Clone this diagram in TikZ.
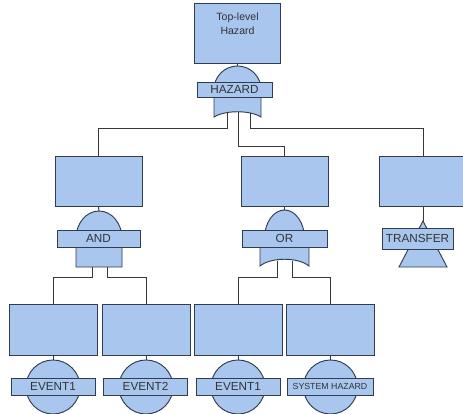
\documentclass[tikz,border=0pt]{standalone}
\usepackage{fontspec}
\setmainfont{Liberation Sans}
\definecolor{boxfill}{RGB}{168,198,238}
\definecolor{boxline}{RGB}{50,60,80}
\definecolor{wirecol}{RGB}{55,55,55}
\tikzset{
    hazbox/.style={rectangle, draw=boxline, fill=boxfill, line width=0.8pt, minimum width=2.61cm, minimum height=1.5cm, inner sep=1pt},
    gatelabel/.style={rectangle, draw=boxline, fill=boxfill, line width=0.8pt, minimum height=0.51cm, inner sep=1pt, font=\fontsize{10}{12}\selectfont, text=black!80},
    gateshape/.style={draw=boxline, fill=boxfill, line width=0.8pt},
    eventnode/.style={circle, draw=boxline, fill=boxfill, line width=0.8pt, minimum size=1.62cm, inner sep=0pt},
    wire/.style={draw=wirecol, line width=0.8pt}
}

\begin{document}
\begin{tikzpicture}[x=0.03cm, y=-0.03cm]
  \useasboundingbox (0,0) rectangle (463,414);
  \node[hazbox, minimum width=2.58cm, minimum height=1.8cm] (top) at (237.5,33) {};
  \node[font=\fontsize{9}{12}\selectfont, align=center, text=black!80] (toptxt) at (237.5,24) {Top-level\\Hazard};
  \node[hazbox] (m1) at (98.5,181.5) {};
  \node[hazbox] (m2) at (284.5,181.5) {};
  \node[hazbox] (m3) at (423,181.5) {};
  \node[hazbox, minimum width=2.64cm, minimum height=1.53cm] (b1) at (53,329.5) {};
  \node[hazbox, minimum width=2.64cm, minimum height=1.53cm] (b2) at (146,329.5) {};
  \node[hazbox, minimum width=2.64cm, minimum height=1.53cm] (b3) at (238,329.5) {};
  \node[hazbox, minimum width=2.64cm, minimum height=1.53cm] (b4) at (330.5,329.5) {};
  \coordinate (g0in) at (237.5,66);
  \coordinate (g0l) at (227,112.5);
  \coordinate (g0c) at (238,112);
  \coordinate (g0r) at (250,113);
  \coordinate (g1in) at (99,211);
  \coordinate (g1l) at (92,267);
  \coordinate (g1r) at (107,267);
  \coordinate (g2in) at (284.5,210);
  \coordinate (g2l) at (277,260.5);
  \coordinate (g2r) at (292,260.5);
  \coordinate (g3in) at (423,221);
  \draw[gateshape] (214,117) -- (214,89.5) arc[start angle=180, end angle=0, radius=0.705cm] -- (261,117) .. controls (250,110) and (225,110) .. (214,117) -- cycle;
  \node[gatelabel, minimum width=2.25cm, minimum height=0.45cm] (g0) at (234.5,89.5) {HAZARD};
  \draw[gateshape] (76,267) -- (76,238.5) arc[start angle=180, end angle=0, x radius=0.69cm, y radius=0.825cm] -- (122,267) -- cycle;
  \node[gatelabel, minimum width=2.49cm] (g1) at (98.5,238.5) {AND};
  \draw[gateshape] (260,266) -- (260,238.5) -- (264.5,238.5) arc[start angle=180, end angle=0, x radius=0.6cm, y radius=0.855cm] -- (309,238.5) -- (309,266) .. controls (298,257) and (271,257) .. (260,266) -- cycle;
  \node[gatelabel, minimum width=2.55cm] (g2) at (284.5,238.5) {OR};
  \draw[gateshape] (g3in) -- (447,267) -- (399,267) -- cycle;
  \node[gatelabel, minimum width=2.13cm, minimum height=0.63cm] (g3) at (417.5,238.5) {TRANSFER};
  \node[eventnode] (e1) at (53,387) {};
  \node[eventnode] (e2) at (146,387) {};
  \node[eventnode] (e3) at (238,387) {};
  \node[eventnode] (e4) at (330.5,387) {};
  \node[gatelabel, minimum width=2.52cm] (l1) at (53,386.5) {EVENT1};
  \node[gatelabel, minimum width=2.52cm] (l2) at (145.5,386.5) {EVENT2};
  \node[gatelabel, minimum width=2.52cm] (l3) at (238,386.5) {EVENT1};
  \node[gatelabel, minimum width=2.58cm, font=\fontsize{7.5}{9}\selectfont] (l4) at (330,386.5) {SYSTEM HAZARD};
  \draw[wire] (top.south) -- (g0in);
  \draw[wire] (g0l) -- ++(0,15.5) -| (m1.north);
  \draw[wire] (g0c) -- ++(0,34) -| (m2.north);
  \draw[wire] (g0r) -- ++(0,15) -| (m3.north);
  \draw[wire] (m1.south) -- (g1in);
  \draw[wire] (m2.south) -- (g2in);
  \draw[wire] (m3.south) -- (g3in);
  \draw[wire] (g1l) -- ++(0,10) -| (b1.north);
  \draw[wire] (g1r) -- ++(0,10) -| (b2.north);
  \draw[wire] (g2l) -- ++(0,16.5) -| (b3.north);
  \draw[wire] (g2r) -- ++(0,16.5) -| (b4.north);
  \draw[wire] (b1.south) -- (e1.north);
  \draw[wire] (b2.south) -- (e2.north);
  \draw[wire] (b3.south) -- (e3.north);
  \draw[wire] (b4.south) -- (e4.north);
\end{tikzpicture}
\end{document}
